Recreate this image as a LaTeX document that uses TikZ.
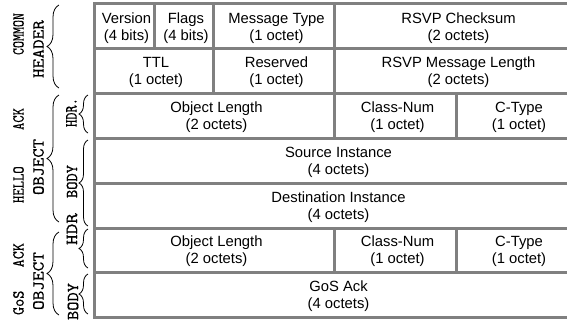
\documentclass[tikz,border=0pt]{standalone}
\usepackage{fontspec}
\newfontfamily\cellfont{Liberation Sans}
\newfontfamily\sidefont{lmmono10-regular.otf}[FakeBold=0.4]
\usetikzlibrary{decorations.pathreplacing}
\definecolor{rulegray}{RGB}{128,128,128}
\begin{document}
\begin{tikzpicture}[x=1bp,y=-1bp,
  gridline/.style={draw=rulegray,line width=3bp},
  cell/.style={font=\cellfont\fontsize{14.8bp}{17bp}\selectfont,align=center,inner sep=0pt},
  side/.style={rotate=90,inner sep=0pt},
  bracebig/.style={decorate,decoration={brace,amplitude=12bp},line width=0.8bp},
  bracesmall/.style={decorate,decoration={brace,amplitude=9bp},line width=0.8bp}]
\useasboundingbox (0,0) rectangle (567,324);
\clip (0,0) rectangle (567,324);
% grid
\draw[gridline] (94,3) rectangle (578,317.5);
\foreach \yy in {48,93,138,183,228,272.5}{\draw[gridline] (94,\yy) -- (578,\yy);}
\draw[gridline] (154,3) -- (154,48);
\draw[gridline] (213.5,3) -- (213.5,93);
\draw[gridline] (334.5,3) -- (334.5,138);
\draw[gridline] (456,93) -- (456,138);
\draw[gridline] (334.5,228) -- (334.5,272.5);
\draw[gridline] (456,228) -- (456,272.5);
% cells
\node[cell] (ver) at (126.5,28.5) {Version\\(4 bits)};
\node[cell] (flg) at (186,28.5) {Flags\\(4 bits)};
\node[cell] (mty) at (276.5,28.5) {Message Type\\(1 octet)};
\node[cell] (chk) at (458.5,28.5) {RSVP Checksum\\(2 octets)};
\node[cell] (ttl) at (156,72) {TTL\\(1 octet)};
\node[cell] (rsv) at (276.5,72) {Reserved\\(1 octet)};
\node[cell] (mln) at (458.5,72) {RSVP Message Length\\(2 octets)};
\node[cell] (olen1) at (216.5,117) {Object Length\\(2 octets)};
\node[cell] (cnum1) at (397.5,117) {Class-Num\\(1 octet)};
\node[cell] (ctyp1) at (519,117) {C-Type\\(1 octet)};
\node[cell] (src) at (338.5,162) {Source Instance\\(4 octets)};
\node[cell] (dst) at (338.5,207) {Destination Instance\\(4 octets)};
\node[cell] (olen2) at (216.5,251.5) {Object Length\\(2 octets)};
\node[cell] (cnum2) at (397.5,251.5) {Class-Num\\(1 octet)};
\node[cell] (ctyp2) at (519,251.5) {C-Type\\(1 octet)};
\node[cell] (gos) at (338.5,296.5) {GoS Ack\\(4 octets)};
% side labels
\node[side] (lcommon) at (18.5,34) {\resizebox{42bp}{10.5bp}{\sidefont COMMON}};
\node[side] (lheader) at (38.5,49) {\resizebox{58bp}{10.5bp}{\sidefont HEADER}};
\node[side] (lhello) at (18.5,155.5) {\resizebox{95bp}{10.5bp}{\sidefont HELLO\hspace{2.6em}ACK}};
\node[side] (lobj1) at (38.5,167) {\resizebox{56bp}{10.5bp}{\sidefont OBJECT}};
\node[side] (lhdr1) at (71.5,112.5) {\resizebox{29bp}{10.5bp}{\sidefont HDR.}};
\node[side] (lbody1) at (72,181.5) {\resizebox{33bp}{10.5bp}{\sidefont BODY}};
\node[side] (lgos) at (18.5,279) {\resizebox{72bp}{10.5bp}{\sidefont GoS\hspace{1.5em}ACK}};
\node[side] (lobj2) at (38.5,281) {\resizebox{58bp}{10.5bp}{\sidefont OBJECT}};
\node[side] (lhdr2) at (72,229) {\resizebox{32bp}{10.5bp}{\sidefont HDR}};
\node[side] (lbody2) at (73,301.5) {\resizebox{37bp}{10.5bp}{\sidefont BODY}};
% braces
\draw[bracebig] (59,88) -- (59,5);
\draw[bracebig] (59,222) -- (59,95);
\draw[bracebig] (59,315) -- (59,232);
\draw[bracesmall] (88,133) -- (88,95);
\draw[bracesmall] (88,226) -- (88,140);
\draw[bracesmall] (88,268) -- (88,229);
\draw[bracesmall] (88,314) -- (88,274);
\end{tikzpicture}
\end{document}
